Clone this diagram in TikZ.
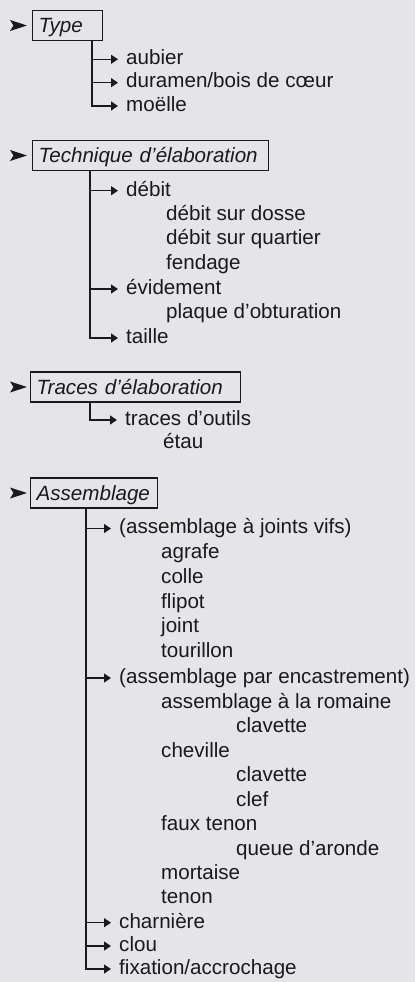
\documentclass[tikz,border=0pt]{standalone}
\usepackage{fontspec}
\setmainfont{Liberation Sans}
\usetikzlibrary{arrows.meta}
\definecolor{bg}{HTML}{E5E5E7}
\definecolor{ink}{HTML}{1A1A1A}
\tikzset{
  catbox/.style={draw=ink, line width=1.2pt, font=\fontsize{20.6}{24}\selectfont\itshape,
    text=ink, inner xsep=6pt, inner ysep=0pt, minimum height=30pt, align=left,
    anchor=west, text height=14.6pt, text depth=0pt},
  item/.style={anchor=west, inner sep=0pt, text=ink, font=\fontsize{20.6}{24}\selectfont,
    text height=10.6pt, text depth=0pt},
  branch/.style={draw=ink, line width=1.3pt, -{Triangle[length=7pt,width=9pt]}, shorten >=8pt},
  pointer/.pic={\fill[ink] (-8.5,-5.5) -- (8.5,0) -- (-8.5,5.5) -- (-5,0) -- cycle;}
}
\begin{document}
\begin{tikzpicture}[x=1pt,y=-1pt]
\fill[bg] (0,0) rectangle (415,982);
\useasboundingbox (0,0) rectangle (415,982);

% ---------- Type ----------
\pic at (18.5,25.5) {pointer};
\node[catbox, text width=58pt] (type) at (32,25.5) {Type};
\coordinate (typetrunk) at (type.south -| 92,0);
\node[item] (aubier) at (126,59.3) {aubier};
\node[item] (duramen) at (126,82.7) {duramen/bois de cœur};
\node[item] (moelle) at (126,106) {moëlle};
\draw[branch] (typetrunk |- aubier.west) -- (aubier.west);
\draw[branch] (typetrunk |- duramen.west) -- (duramen.west);
\draw[branch] (typetrunk) |- (moelle.west);

% ---------- Technique ----------
\pic at (18.5,155.5) {pointer};
\node[catbox, text width=224pt] (tech) at (32,155.5) {Technique d’élaboration};
\coordinate (techtrunk) at (tech.south -| 90,0);
\node[item] (debit) at (126,190.7) {débit};
\node[item] (dosse) at (166,215) {débit sur dosse};
\node[item] (quartier) at (166,239.5) {débit sur quartier};
\node[item] (fendage) at (166,264) {fendage};
\node[item] (evidement) at (126,289) {évidement};
\node[item] (plaque) at (166,313.5) {plaque d’obturation};
\node[item] (taille) at (126,338) {taille};
\draw[branch] (techtrunk |- debit.west) -- (debit.west);
\draw[branch] (techtrunk |- evidement.west) -- (evidement.west);
\draw[branch] (techtrunk) |- (taille.west);

% ---------- Traces ----------
\pic at (18.5,387) {pointer};
\node[catbox, text width=198pt] (traces) at (30,387) {Traces d’élaboration};
\coordinate (tracestrunk) at (traces.south -| 90,0);
\node[item] (outils) at (125,420) {traces d’outils};
\node[item] (etau) at (163,443) {étau};
\draw[branch] (tracestrunk) |- (outils.west);

% ---------- Assemblage ----------
\pic at (18.5,493) {pointer};
\node[catbox, text width=115pt] (assemb) at (30,493) {Assemblage};
\coordinate (asstrunk) at (assemb.south -| 86,0);
\node[item] (vifs) at (119,528.5) {(assemblage à joints vifs)};
\node[item] (agrafe) at (161,553) {agrafe};
\node[item] (colle) at (161,578) {colle};
\node[item] (flipot) at (161,603) {flipot};
\node[item] (joint) at (161,627.5) {joint};
\node[item] (tourillon) at (161,652.5) {tourillon};
\node[item] (encast) at (119,678) {(assemblage par encastrement)};
\node[item] (romaine) at (161,703) {assemblage à la romaine};
\node[item] (clavA) at (236,727) {clavette};
\node[item] (cheville) at (161,752) {cheville};
\node[item] (clavB) at (236,776) {clavette};
\node[item] (clef) at (236,801) {clef};
\node[item] (fauxtenon) at (161,825.5) {faux tenon};
\node[item] (queue) at (236,850) {queue d’aronde};
\node[item] (mortaise) at (161,874) {mortaise};
\node[item] (tenon) at (161,898) {tenon};
\node[item] (charniere) at (119,922.7) {charnière};
\node[item] (clou) at (119,946) {clou};
\node[item] (fixation) at (119,969) {fixation/accrochage};
\draw[branch] (asstrunk |- vifs.west) -- (vifs.west);
\draw[branch] (asstrunk |- encast.west) -- (encast.west);
\draw[branch] (asstrunk |- charniere.west) -- (charniere.west);
\draw[branch] (asstrunk |- clou.west) -- (clou.west);
\draw[branch] (asstrunk) |- (fixation.west);
\end{tikzpicture}
\end{document}
